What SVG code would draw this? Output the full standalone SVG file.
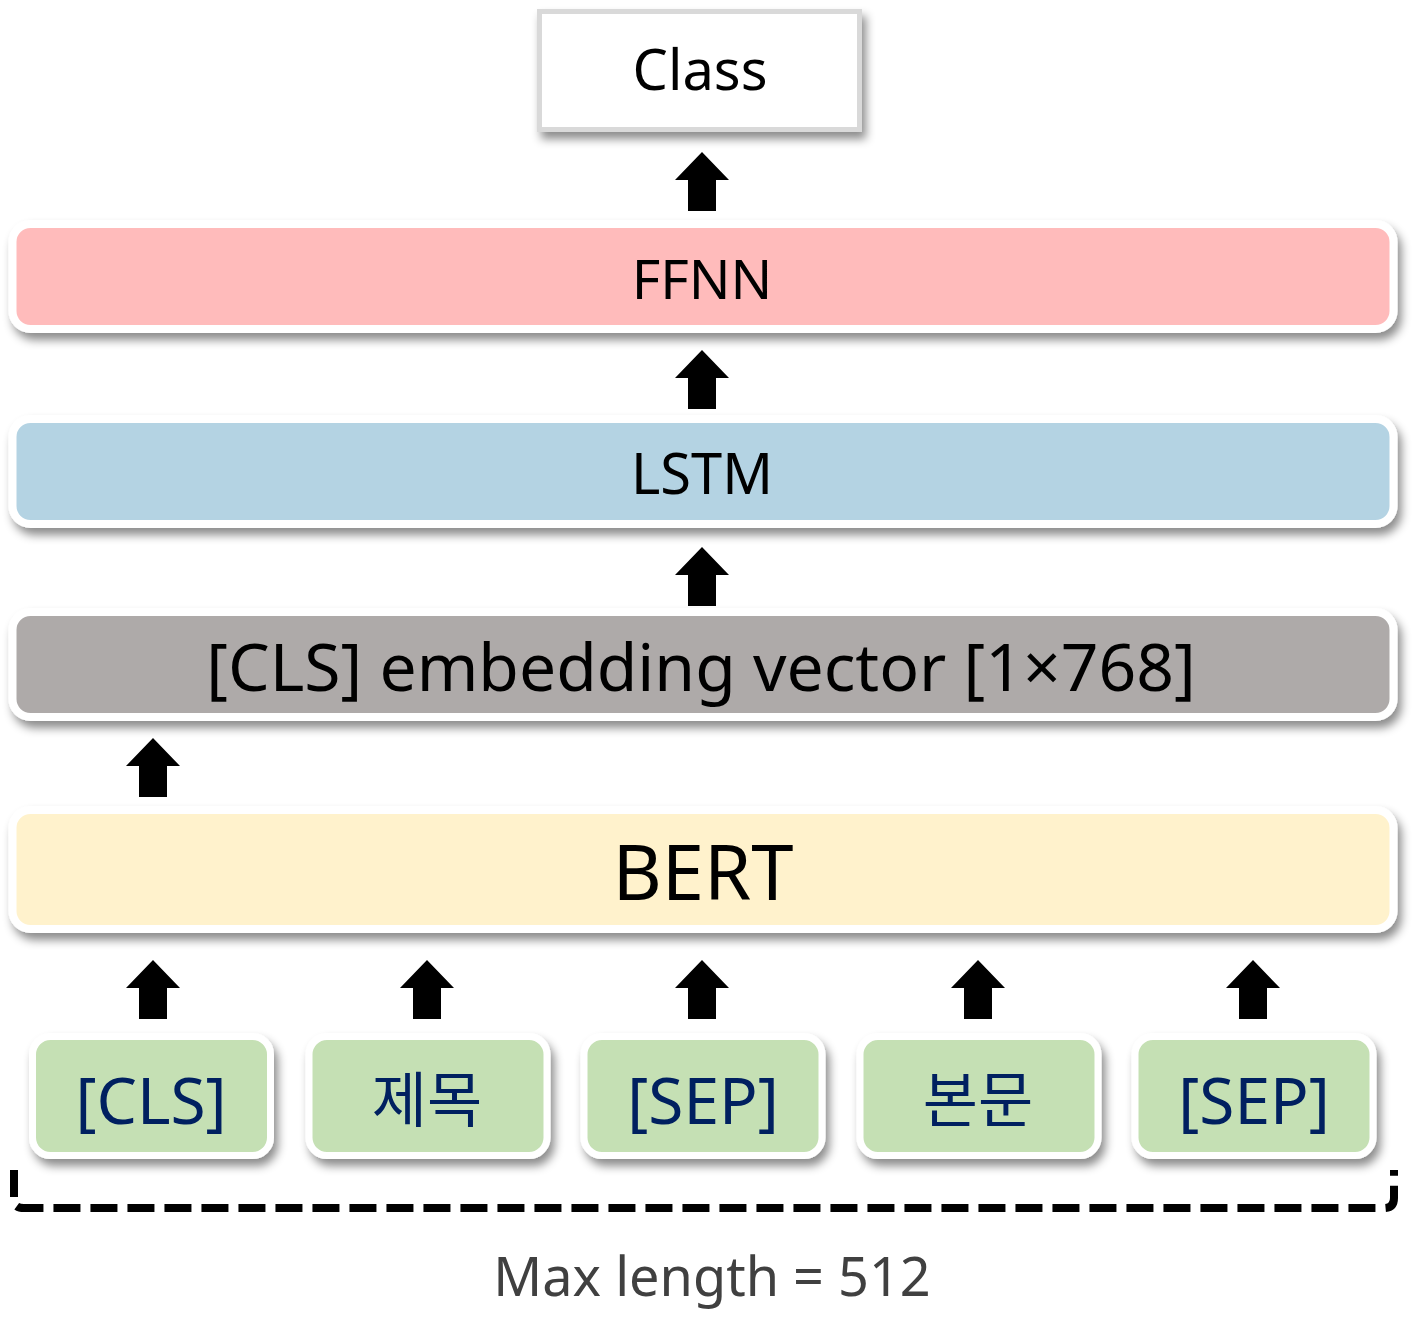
<svg xmlns="http://www.w3.org/2000/svg" width="1426" height="1343" viewBox="0 0 1426 1343">
<defs>
<filter id="sh" x="-10%" y="-20%" width="120%" height="160%">
<feDropShadow dx="4" dy="7" stdDeviation="5" flood-color="#000" flood-opacity="0.45"/>
</filter>
<path id="arr" d="M0 0 L27 28 L14 28 L14 59 L-14 59 L-14 28 L-27 28 Z" fill="#000"/>
</defs>
<style>
.t{font-family:"Noto Sans","Noto Sans CJK KR","Open Sans",sans-serif;text-anchor:middle;fill:#000}
.bar{stroke:#fff;stroke-width:8}
.tok{fill:#c5e0b4;stroke:#fff;stroke-width:7}
.tt{font-family:"Noto Sans","Noto Sans CJK KR",sans-serif;text-anchor:middle;fill:#002060;font-size:64px}
.tk{font-family:"Noto Sans CJK KR",sans-serif;text-anchor:middle;fill:#002060;font-size:60px}
</style>
<rect width="1426" height="1343" fill="#fff"/>
<g id="class">
<rect x="539.5" y="11.5" width="320" height="118" fill="#fff" stroke="#d9d9d9" stroke-width="5" filter="url(#sh)"/>
<text class="t" x="700" y="90" font-size="56">Class</text>
</g>
<g id="ffnn">
<rect class="bar" x="12.5" y="224" width="1381" height="105" rx="18" fill="#ffbbbb" filter="url(#sh)"/>
<text class="t" x="702" y="299" font-size="55">FFNN</text>
</g>
<g id="lstm">
<rect class="bar" x="12.5" y="419" width="1381" height="105" rx="18" fill="#b4d3e3" filter="url(#sh)"/>
<text class="t" x="702" y="494" font-size="56">LSTM</text>
</g>
<g id="cls-embedding">
<rect class="bar" x="12.5" y="612" width="1381" height="105" rx="18" fill="#aeaaa9" filter="url(#sh)"/>
<text class="t" x="701" y="691" font-size="66">[CLS] embedding vector [1×768]</text>
</g>
<g id="bert">
<rect class="bar" x="12.5" y="810" width="1381" height="119" rx="18" fill="#fff2cc" filter="url(#sh)"/>
<text class="t" x="703" y="900" font-size="76">BERT</text>
</g>
<g id="tok-cls">
<rect class="tok" x="32.5" y="1036.5" width="238" height="119" rx="18" filter="url(#sh)"/>
<text class="tt" x="151" y="1124">[CLS]</text>
</g>
<g id="tok-title">
<rect class="tok" x="309" y="1036.5" width="238" height="119" rx="18" filter="url(#sh)"/>
<text class="tk" x="427" y="1122">제목</text>
</g>
<g id="tok-sep1">
<rect class="tok" x="584" y="1036.5" width="238" height="119" rx="18" filter="url(#sh)"/>
<text class="tt" x="703" y="1124">[SEP]</text>
</g>
<g id="tok-body">
<rect class="tok" x="860" y="1036.5" width="238" height="119" rx="18" filter="url(#sh)"/>
<text class="tk" x="978" y="1122">본문</text>
</g>
<g id="tok-sep2">
<rect class="tok" x="1135" y="1036.5" width="238" height="119" rx="18" filter="url(#sh)"/>
<text class="tt" x="1254" y="1124">[SEP]</text>
</g>
<g id="connectors">
<use href="#arr" x="702" y="152"/>
<use href="#arr" x="702" y="350"/>
<use href="#arr" x="702" y="547"/>
<use href="#arr" x="153" y="738"/>
<use href="#arr" x="153" y="960"/>
<use href="#arr" x="427" y="960"/>
<use href="#arr" x="702" y="960"/>
<use href="#arr" x="978" y="960"/>
<use href="#arr" x="1253" y="960"/>
</g>
<g id="bracket">
<path d="M14 1170 V1200 Q14 1208 24 1208 H1384 Q1394 1208 1394 1198 V1170" fill="none" stroke="#000" stroke-width="8" stroke-dasharray="27 10"/>
<text x="712" y="1296" font-family="Noto Sans, Noto Sans CJK KR, sans-serif" font-size="54" text-anchor="middle" fill="#404040">Max length = 512</text>
</g>
</svg>
